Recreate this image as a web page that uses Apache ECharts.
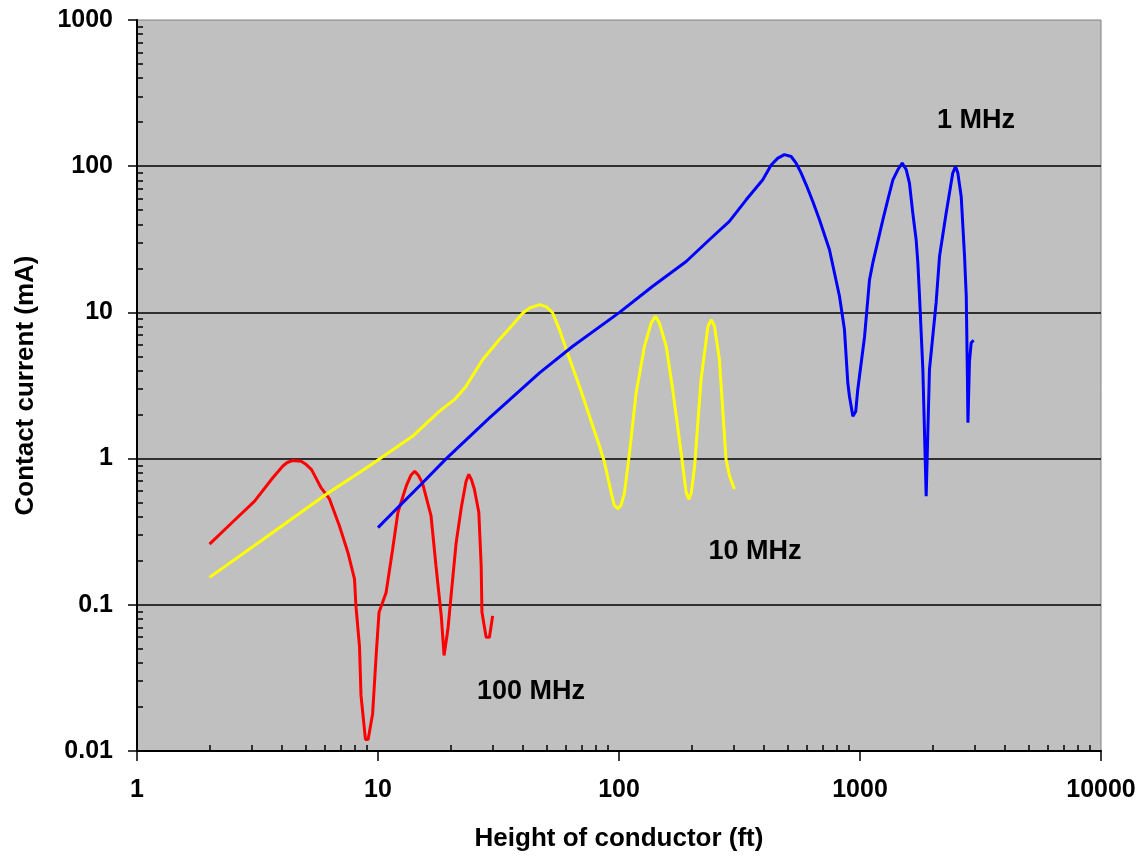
<!DOCTYPE html>
<html>
<head>
<meta charset="utf-8">
<script src="https://cdn.jsdelivr.net/npm/echarts@6/dist/echarts.min.js"></script>
<style>
  html, body { margin: 0; padding: 0; background: #fff; }
  #chart { width: 1141px; height: 857px; }
</style>
</head>
<body>
<div id="chart"></div>
<script>
// tick labels
const xTickLabels = ['1', '10', '100', '1000', '10000'];
const yTickLabels = ['0.01', '0.1', '1', '10', '100', '1000'];

// 100 MHz (red)
const x100 = [2.0, 2.5, 3.07, 3.66, 4.03, 4.2, 4.42, 4.8, 5.0, 5.3, 5.81, 6.29, 6.92, 7.5, 7.99, 8.1, 8.38, 8.5, 8.87, 9.1,
  9.5, 9.84, 10.1, 10.8, 11.5, 12.1, 13.1, 13.7, 14.2, 14.7, 15.3, 16.6, 17.4, 18.3, 18.8, 19.5, 20.1, 21.1, 22.2, 23.2,
  23.8, 24.4, 25.1, 26.2, 26.8, 27.0, 28.1, 29.0, 29.9];
const y100 = [0.26, 0.37, 0.51, 0.74, 0.89, 0.94, 0.97, 0.96, 0.92, 0.84, 0.63, 0.53, 0.346, 0.228, 0.15, 0.098, 0.052, 0.024, 0.012, 0.012,
  0.018, 0.047, 0.089, 0.121, 0.24, 0.43, 0.65, 0.77, 0.82, 0.77, 0.68, 0.405, 0.185, 0.084, 0.045, 0.068, 0.115, 0.266, 0.47, 0.7,
  0.78, 0.72, 0.62, 0.43, 0.185, 0.089, 0.06, 0.06, 0.084];

// 10 MHz (yellow)
const x10 = [2.0, 3.33, 6.1, 9.2, 10.1, 13.9, 18.0, 20.8, 23.2, 27.2, 31.9, 36.3, 39.9, 42.5, 46.8, 50, 53.1, 56.6, 60.4, 64.3,
  68.5, 73.1, 77.8, 83, 87.1, 92.8, 95.5, 98.9, 102, 105.4, 110.6, 117.8, 127.6, 136, 141.6, 147, 157, 167, 181, 190,
  195, 199.5, 206, 219, 234, 241.5, 249, 261, 278, 287.5, 301];
const y10 = [0.154, 0.28, 0.57, 0.89, 0.99, 1.42, 2.11, 2.54, 3.13, 4.76, 6.52, 8.26, 9.9, 10.7, 11.3, 10.9, 9.9, 7.63, 5.57, 4.18,
  3.13, 2.28, 1.67, 1.22, 0.94, 0.585, 0.48, 0.455, 0.48, 0.585, 1.10, 2.82, 5.87, 8.48, 9.4, 8.48, 5.87, 2.97, 1.10, 0.585,
  0.526, 0.585, 0.89, 3.47, 8.04, 8.93, 8.04, 4.76, 0.99, 0.76, 0.62];

// 1 MHz (blue)
const x1 = [10, 12, 15, 19.2, 29, 46.8, 64.3, 100.5, 138, 190, 237, 287, 337, 395, 428, 456, 486, 518, 543, 570,
  598, 637, 679, 747, 822, 862, 890, 904, 934, 960, 979, 1045, 1095, 1130, 1244, 1304, 1369, 1435, 1497, 1556,
  1604, 1656, 1710, 1738, 1766, 1823, 1882, 1942, 2069, 2138, 2278, 2426, 2490, 2547, 2630, 2715, 2760, 2790, 2805, 2846,
  2893, 2960];
const y1 = [0.337, 0.457, 0.66, 1.0, 1.9, 3.86, 5.87, 10, 15.1, 22.3, 31.4, 41.9, 58.9, 80.7, 102, 113.5, 120, 116.5, 105, 89.7,
  74.6, 57.4, 43, 26.8, 12.9, 7.63, 3.3, 2.67, 1.95, 2.1, 2.97, 6.87, 16.7, 21.8, 43, 58.9, 80.7, 94.5, 105, 94.5,
  76.7, 47.8, 31.4, 21.8, 12.9, 4.07, 0.554, 4.07, 11.6, 24.2, 47.8, 89.7, 99.5, 89.7, 62, 24.2, 12.9, 3.66, 1.76, 4.6,
  6.19, 6.45];

const zip = (xs, ys) => xs.map((x, i) => [x, ys[i]]);

const font = "'Liberation Sans', Arial, sans-serif";
const black = '#000';

let myChart = echarts.init(document.getElementById('chart'));

function logAxis(min, max, labels, base) {
  return {
    type: 'log',
    logBase: 10,
    min: min,
    max: max,
    axisLine: { show: true, lineStyle: { color: black, width: 2 } },
    axisTick: { show: true, inside: false, length: 9, lineStyle: { color: black, width: 1.5 } },
    axisLabel: {
      color: black,
      fontFamily: font,
      fontWeight: 'bold',
      fontSize: 25,
      formatter: (v) => labels[Math.round(Math.log10(v)) - base]
    },
    splitLine: { show: false }
  };
}

// second axes only carry the inward minor ticks
function minorAxis(min, max, pos) {
  return {
    type: 'log',
    logBase: 10,
    min: min,
    max: max,
    position: pos,
    axisLine: { show: false },
    axisLabel: { show: false },
    axisTick: { show: false, inside: true },
    splitLine: { show: false },
    minorTick: { show: true, splitNumber: 9, length: 6, lineStyle: { color: black, width: 1.5 } }
  };
}

let xMain = logAxis(1, 10000, xTickLabels, 0);
xMain.position = 'bottom';
xMain.axisTick.length = 10;
xMain.axisLabel.margin = 27;
xMain.name = 'Height of conductor (ft)';
xMain.nameLocation = 'middle';
xMain.nameGap = 75;
xMain.nameTextStyle = { color: black, fontFamily: font, fontWeight: 'bold', fontSize: 26 };

let yMain = logAxis(0.01, 1000, yTickLabels, -2);
yMain.position = 'left';
yMain.axisLabel.margin = 24;
yMain.splitLine = { show: true, showMinLine: false, showMaxLine: false, lineStyle: { color: black, width: 1.5 } };
yMain.name = 'Contact current (mA)';
yMain.nameLocation = 'middle';
yMain.nameGap = 98;
yMain.nameTextStyle = { color: black, fontFamily: font, fontWeight: 'bold', fontSize: 26 };

function lineSeries(name, data, color) {
  return {
    name: name,
    type: 'line',
    xAxisIndex: 0,
    yAxisIndex: 0,
    data: data,
    showSymbol: false,
    smooth: false,
    lineStyle: { color: color, width: 3 },
    itemStyle: { color: color },
    z: 3
  };
}

const labelStyle = { fill: black, font: 'bold 27px ' + font, align: 'center', verticalAlign: 'middle' };

let option = {
  animation: false,
  backgroundColor: '#fff',
  grid: {
    left: 137,
    right: 40,
    top: 20,
    bottom: 105,
    show: true,
    backgroundColor: '#c0c0c0',
    borderColor: '#808080',
    borderWidth: 1
  },
  xAxis: [xMain, minorAxis(1, 10000, 'bottom')],
  yAxis: [yMain, minorAxis(0.01, 1000, 'left')],
  series: [
    lineSeries('100 MHz', zip(x100, y100), '#ff0000'),
    lineSeries('10 MHz', zip(x10, y10), '#ffff00'),
    lineSeries('1 MHz', zip(x1, y1), '#0000ff')
  ],
  graphic: [
    { type: 'text', x: 976, y: 121, z: 10, style: Object.assign({ text: '1 MHz' }, labelStyle) },
    { type: 'text', x: 755, y: 552, z: 10, style: Object.assign({ text: '10 MHz' }, labelStyle) },
    { type: 'text', x: 531, y: 692, z: 10, style: Object.assign({ text: '100 MHz' }, labelStyle) }
  ]
};

myChart.setOption(option);
</script>
</body>
</html>
